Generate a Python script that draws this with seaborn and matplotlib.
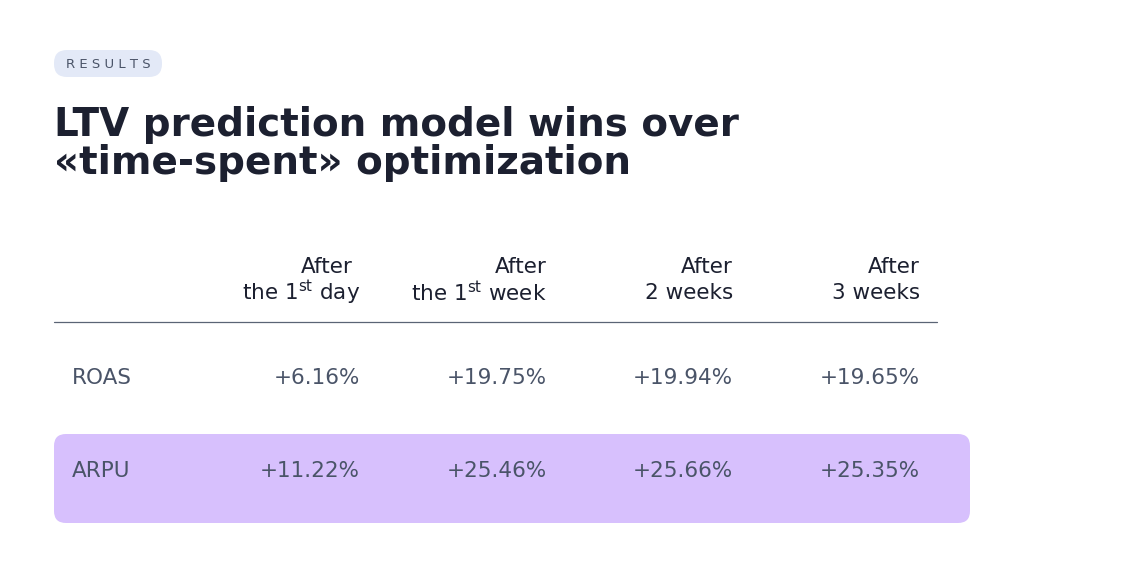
import matplotlib.pyplot as plt
import seaborn as sns
from matplotlib.patches import FancyBboxPatch

# data
header_top = ["After", "After", "After", "After"]
header_bottom = [r"the 1$^{\mathrm{st}}$ day", r"the 1$^{\mathrm{st}}$ week",
                 "2 weeks", "3 weeks"]
rows = ["ROAS", "ARPU"]
roas = ["+6.16%", "+19.75%", "+19.94%", "+19.65%"]
arpu = ["+11.22%", "+25.46%", "+25.66%", "+25.35%"]
values = [roas, arpu]

sns.set_theme(style="white")
plt.rcParams["font.family"] = ["DejaVu Sans"]
plt.rcParams["mathtext.default"] = "regular"

fig = plt.figure(figsize=(11.42, 5.82), dpi=100)
ax = fig.add_axes([0, 0, 1, 1])
ax.set_xlim(0, 1142)
ax.set_ylim(582, 0)
ax.axis("off")

dark = "#1c2030"
grey = "#4a5468"
fs = 15.5

# pill
ax.add_patch(FancyBboxPatch((54, 50), 108, 27, boxstyle="round,pad=0,rounding_size=13",
                            fc="#e3e9f7", ec="none"))
ax.text(108, 64, "R E S U L T S", ha="center", va="center", fontsize=9.5, color=grey)

ax.text(54, 125, "LTV prediction model wins over", fontsize=28, fontweight="bold",
        color=dark, va="center")
ax.text(54, 163, "«time-spent» optimization", fontsize=28, fontweight="bold",
        color=dark, va="center")

# highlighted row
ax.add_patch(FancyBboxPatch((54, 434), 916, 89, boxstyle="round,pad=0,rounding_size=12",
                            fc="#d7c0fd", ec="none"))

head_x = [353, 547, 733, 920]
bottom_x = [360, 547, 733, 920]
for x, xb, t, b in zip(head_x, bottom_x, header_top, header_bottom):
    ax.text(x, 267, t, ha="right", va="center", fontsize=fs, color=dark)
    ax.text(xb, 293, b, ha="right", va="center", fontsize=fs, color=dark)

ax.plot([54, 937], [322, 322], color="#5a6475", lw=0.9)

col_x = [360, 547, 733, 920]
row_y = [378, 471]
for y, name, vals in zip(row_y, rows, values):
    ax.text(72, y, name, ha="left", va="center", fontsize=fs, color=grey)
    for x, v in zip(col_x, vals):
        ax.text(x, y, v, ha="right", va="center", fontsize=fs, color=grey)

fig.savefig("out.png", dpi=100)
